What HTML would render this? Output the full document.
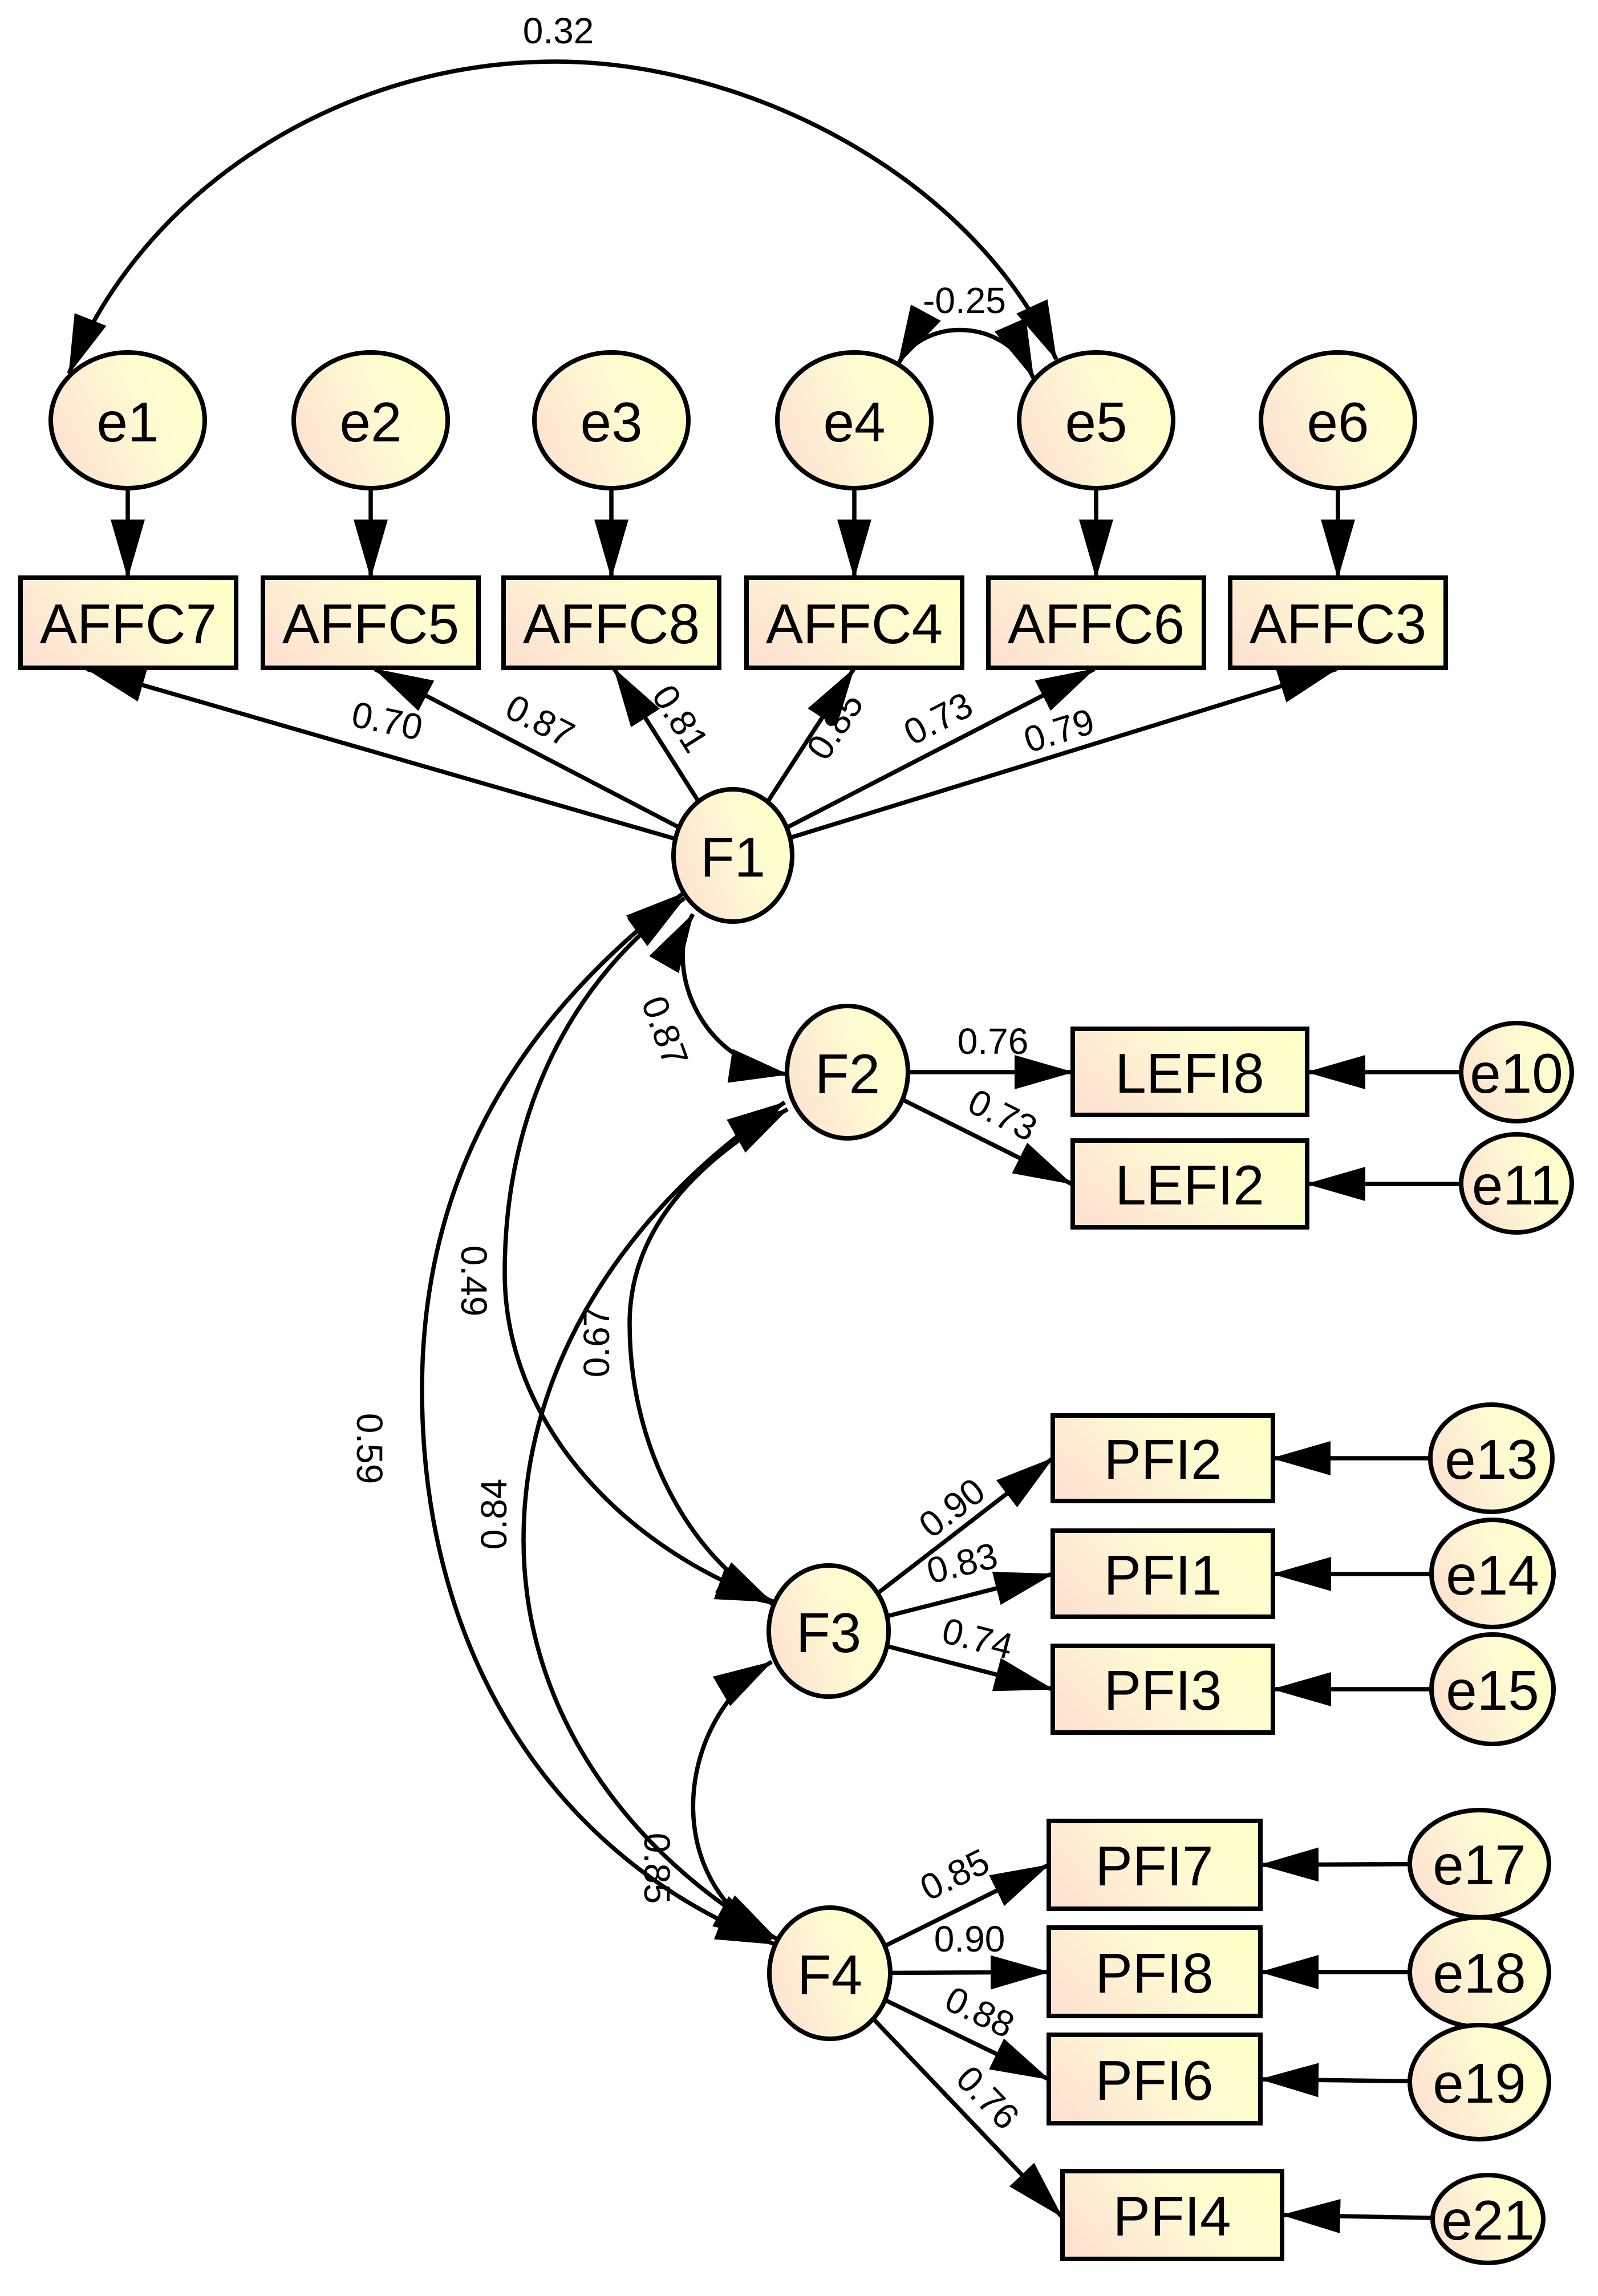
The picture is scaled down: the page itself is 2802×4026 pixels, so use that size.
<!DOCTYPE html>
<html><head><meta charset="utf-8"><style>
html,body{margin:0;padding:0;background:#fff;}
svg{display:block;}
text{font-family:"Liberation Sans",Arial,sans-serif;fill:#000;}
.n{font-size:98px;}
.l{font-size:64px;}
</style></head><body>
<svg width="2802" height="4026" viewBox="0 0 2802 4026" xmlns="http://www.w3.org/2000/svg">
<defs>
<linearGradient id="g" x1="0" y1="0.7" x2="1" y2="0.3">
<stop offset="0" stop-color="#fde2d2"/><stop offset="0.6" stop-color="#fffad2"/><stop offset="1" stop-color="#ffffc8"/>
</linearGradient>
<marker id="a" markerUnits="userSpaceOnUse" markerWidth="104" markerHeight="60" refX="102" refY="30" orient="auto-start-reverse" viewBox="0 0 104 60">
<path d="M0,0 L104,30 L0,60 z" fill="#000"/>
</marker>
</defs>
<g fill="none" stroke="#000" stroke-width="7.5">
<path d="M1852,630 C1700,300 1300,108 974,108 C600,108 250,330 121,655" marker-start="url(#a)" marker-end="url(#a)"/>
<path d="M1575,638 C1620,555 1765,555 1812,663" marker-start="url(#a)" marker-end="url(#a)"/>
<path d="M1197,1567 C920,1780 740,2050 740,2437 C740,2900 970,3260 1358,3409" marker-start="url(#a)" marker-end="url(#a)"/>
<path d="M1200,1575 C1000,1720 885,1950 885,2232 C885,2500 1100,2720 1358,2809" marker-start="url(#a)" marker-end="url(#a)"/>
<path d="M1376,1933 C1150,2080 918,2350 918,2700 C918,3000 1100,3250 1362,3400" marker-start="url(#a)" marker-end="url(#a)"/>
<path d="M1381,1945 C1230,2030 1104,2150 1104,2321 C1104,2550 1220,2740 1358,2814" marker-start="url(#a)" marker-end="url(#a)"/>
<path d="M1215,1603 C1165,1690 1220,1860 1381,1884" marker-start="url(#a)" marker-end="url(#a)"/>
<path d="M1353,2914 C1190,3010 1150,3290 1353,3400" marker-start="url(#a)" marker-end="url(#a)"/>
<line x1="224" y1="856" x2="224" y2="1013" marker-end="url(#a)"/>
<line x1="650" y1="856" x2="650" y2="1013" marker-end="url(#a)"/>
<line x1="1072" y1="856" x2="1072" y2="1013" marker-end="url(#a)"/>
<line x1="1498" y1="856" x2="1498" y2="1013" marker-end="url(#a)"/>
<line x1="1922" y1="856" x2="1922" y2="1013" marker-end="url(#a)"/>
<line x1="2346" y1="856" x2="2346" y2="1013" marker-end="url(#a)"/>
<line x1="1285" y1="1500" x2="152" y2="1173" marker-end="url(#a)"/>
<line x1="1285" y1="1500" x2="657" y2="1173" marker-end="url(#a)"/>
<line x1="1285" y1="1500" x2="1077" y2="1173" marker-end="url(#a)"/>
<line x1="1285" y1="1500" x2="1497" y2="1173" marker-end="url(#a)"/>
<line x1="1285" y1="1500" x2="1919" y2="1173" marker-end="url(#a)"/>
<line x1="1285" y1="1500" x2="2344" y2="1173" marker-end="url(#a)"/>
<line x1="1486" y1="1880" x2="1881" y2="1880" marker-end="url(#a)"/>
<line x1="1486" y1="1880" x2="1879" y2="2076" marker-end="url(#a)"/>
<line x1="2659" y1="1880" x2="2292" y2="1880" marker-end="url(#a)"/>
<line x1="2659" y1="2076" x2="2292" y2="2076" marker-end="url(#a)"/>
<line x1="1453" y1="2860" x2="1846" y2="2557" marker-end="url(#a)"/>
<line x1="1453" y1="2860" x2="1846" y2="2760" marker-end="url(#a)"/>
<line x1="1453" y1="2860" x2="1846" y2="2962" marker-end="url(#a)"/>
<line x1="2615" y1="2557" x2="2231" y2="2557" marker-end="url(#a)"/>
<line x1="2617" y1="2760" x2="2232" y2="2760" marker-end="url(#a)"/>
<line x1="2617" y1="2962" x2="2232" y2="2962" marker-end="url(#a)"/>
<line x1="1455" y1="3460" x2="1839" y2="3270" marker-end="url(#a)"/>
<line x1="1455" y1="3460" x2="1839" y2="3458" marker-end="url(#a)"/>
<line x1="1455" y1="3460" x2="1839" y2="3646" marker-end="url(#a)"/>
<line x1="1455" y1="3460" x2="1862" y2="3887" marker-end="url(#a)"/>
<line x1="2594" y1="3268" x2="2210" y2="3270" marker-end="url(#a)"/>
<line x1="2594" y1="3458" x2="2210" y2="3458" marker-end="url(#a)"/>
<line x1="2594" y1="3651" x2="2210" y2="3646" marker-end="url(#a)"/>
<line x1="2609" y1="3891" x2="2248" y2="3884" marker-end="url(#a)"/>
</g>
<g fill="url(#g)" stroke="#000" stroke-width="8">
<ellipse cx="224" cy="737" rx="135" ry="119"/>
<ellipse cx="650" cy="737" rx="135" ry="119"/>
<ellipse cx="1072" cy="737" rx="135" ry="119"/>
<ellipse cx="1498" cy="737" rx="135" ry="119"/>
<ellipse cx="1922" cy="737" rx="135" ry="119"/>
<ellipse cx="2346" cy="737" rx="135" ry="119"/>
<rect x="36" y="1013" width="378" height="158"/>
<rect x="461" y="1013" width="378" height="158"/>
<rect x="883" y="1013" width="378" height="158"/>
<rect x="1309" y="1013" width="378" height="158"/>
<rect x="1733" y="1013" width="378" height="158"/>
<rect x="2157" y="1013" width="378" height="158"/>
<ellipse cx="1285" cy="1500" rx="104" ry="116"/>
<ellipse cx="1486" cy="1880" rx="106" ry="116"/>
<ellipse cx="1453" cy="2860" rx="105" ry="115"/>
<ellipse cx="1455" cy="3460" rx="106" ry="115"/>
<rect x="1881" y="1804" width="411" height="151"/>
<rect x="1881" y="2000" width="411" height="152"/>
<ellipse cx="2659" cy="1880" rx="97" ry="86"/>
<ellipse cx="2659" cy="2075" rx="97" ry="86"/>
<rect x="1846" y="2482" width="386" height="150"/>
<rect x="1846" y="2684" width="386" height="151"/>
<rect x="1846" y="2886" width="386" height="152"/>
<ellipse cx="2615" cy="2557" rx="107" ry="94"/>
<ellipse cx="2617" cy="2759" rx="107" ry="94"/>
<ellipse cx="2617" cy="2962" rx="107" ry="96"/>
<rect x="1839" y="3193" width="371" height="154"/>
<rect x="1839" y="3380" width="371" height="155"/>
<rect x="1839" y="3568" width="371" height="155"/>
<rect x="1863" y="3807" width="385" height="154"/>
<ellipse cx="2594" cy="3268" rx="122" ry="94"/>
<ellipse cx="2594" cy="3458" rx="122" ry="96"/>
<ellipse cx="2594" cy="3651" rx="122" ry="100"/>
<ellipse cx="2609" cy="3891" rx="97" ry="77"/>
</g>
<g class="n" text-anchor="middle" dominant-baseline="central">
<text x="224" y="740">e1</text><text x="650" y="740">e2</text><text x="1072" y="740">e3</text>
<text x="1498" y="740">e4</text><text x="1922" y="740">e5</text><text x="2346" y="740">e6</text>
<text x="225" y="1094">AFFC7</text><text x="650" y="1094">AFFC5</text><text x="1072" y="1094">AFFC8</text>
<text x="1498" y="1094">AFFC4</text><text x="1922" y="1094">AFFC6</text><text x="2346" y="1094">AFFC3</text>
<text x="1285" y="1503">F1</text><text x="1486" y="1883">F2</text><text x="1453" y="2863">F3</text><text x="1455" y="3463">F4</text>
<text x="2086" y="1882">LEFI8</text><text x="2086" y="2078">LEFI2</text>
<text x="2659" y="1882">e10</text><text x="2659" y="2078">e11</text>
<text x="2039" y="2559">PFI2</text><text x="2039" y="2762">PFI1</text><text x="2039" y="2964">PFI3</text>
<text x="2615" y="2559">e13</text><text x="2617" y="2762">e14</text><text x="2617" y="2964">e15</text>
<text x="2024" y="3272">PFI7</text><text x="2024" y="3460">PFI8</text><text x="2024" y="3648">PFI6</text><text x="2055" y="3886">PFI4</text>
<text x="2594" y="3270">e17</text><text x="2594" y="3460">e18</text><text x="2594" y="3653">e19</text><text x="2609" y="3893">e21</text>
</g>
<g class="l" text-anchor="middle" dominant-baseline="central">
<text x="979" y="54">0.32</text>
<text x="1691" y="527">-0.25</text>
<text transform="translate(679,1264) rotate(11.7)">0.70</text>
<text transform="translate(947,1264) rotate(27.5)">0.87</text>
<text transform="translate(1193,1260) rotate(57.5)">0.81</text>
<text transform="translate(1464,1273) rotate(-57)">0.85</text>
<text transform="translate(1645,1260) rotate(-27.3)">0.73</text>
<text transform="translate(1857,1281) rotate(-17.2)">0.79</text>
<text x="1741" y="1826">0.76</text>
<text transform="translate(1758,1955) rotate(26.5)">0.73</text>
<text transform="translate(1669,2644) rotate(-37.6)">0.90</text>
<text transform="translate(1687,2741) rotate(-14)">0.83</text>
<text transform="translate(1714,2873) rotate(14.5)">0.74</text>
<text transform="translate(1674,3287) rotate(-26)">0.85</text>
<text x="1700" y="3400">0.90</text>
<text transform="translate(1718,3528) rotate(25.7)">0.88</text>
<text transform="translate(1732,3678) rotate(46)">0.76</text>
<text transform="translate(1166,1808) rotate(70)">0.87</text>
<text transform="translate(648,2540) rotate(90)">0.59</text>
<text transform="translate(831,2246) rotate(90)">0.49</text>
<text transform="translate(1046,2353) rotate(-90)">0.67</text>
<text transform="translate(866,2655) rotate(-90)">0.84</text>
<text transform="translate(1152,3276) rotate(90)">0.85</text>
</g>
</svg>
</body></html>
